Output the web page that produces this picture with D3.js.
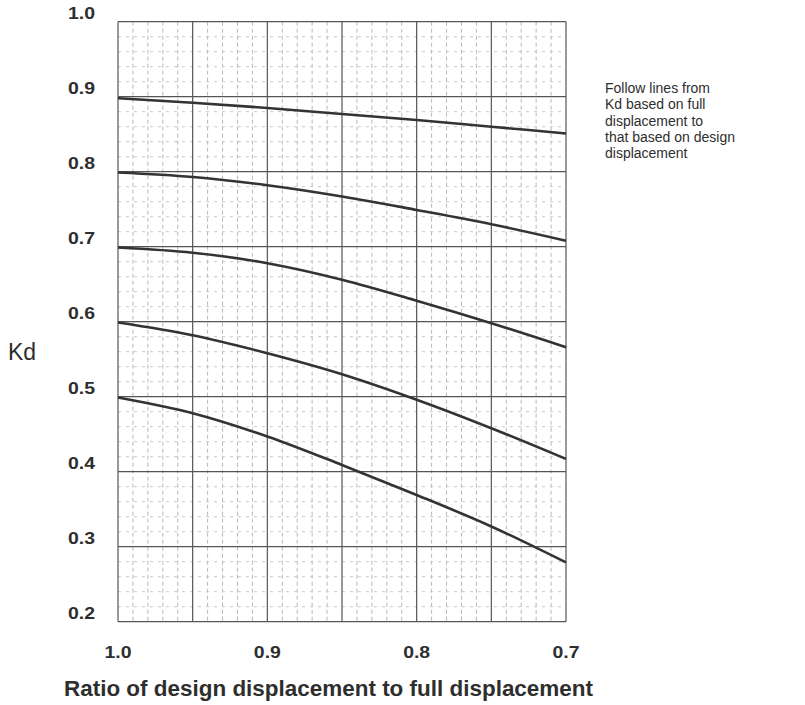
<!DOCTYPE html>
<html>
<head>
<meta charset="utf-8">
<script src="https://cdn.jsdelivr.net/npm/d3@7"></script>
<style>
  html, body { margin: 0; padding: 0; background: #fff; }
  svg { display: block; }
  text { font-family: "Liberation Sans", Arial, sans-serif; fill: #2e2e2e; }
</style>
</head>
<body>
<svg id="chart" width="805" height="705"></svg>
<script>
// ---- data ----
const ratios = [1.0, 0.95, 0.9, 0.85, 0.8, 0.75, 0.7];
const kd90 = [0.898, 0.892, 0.885, 0.877, 0.869, 0.860, 0.851];
const kd80 = [0.799, 0.793, 0.782, 0.767, 0.749, 0.730, 0.708];
const kd70 = [0.699, 0.692, 0.678, 0.656, 0.628, 0.598, 0.566];
const kd60 = [0.599, 0.582, 0.558, 0.530, 0.496, 0.458, 0.417];
const kd50 = [0.499, 0.478, 0.447, 0.409, 0.369, 0.327, 0.279];
const xTicks = [1.0, 0.9, 0.8, 0.7];
const yTicks = [1.0, 0.9, 0.8, 0.7, 0.6, 0.5, 0.4, 0.3, 0.2];
const xTitle = "Ratio of design displacement to full displacement";
const yTitle = "Kd";
const note = ["Follow lines from", "Kd based on full", "displacement to", "that based on design", "displacement"];

// ---- layout ----
const svg = d3.select("#chart");
const x = d3.scaleLinear().domain([1.0, 0.7]).range([118, 566]);
const y = d3.scaleLinear().domain([0.2, 1.0]).range([621.7, 21.7]);

const g = svg.append("g");

// minor vertical grid (every 0.01)
const minorX = d3.range(0, 31).map(i => +(1.0 - i * 0.01).toFixed(2)).filter(v => Math.round(v * 100) % 5 !== 0);
g.selectAll(".mvx").data(minorX).join("line")
  .attr("x1", d => x(d)).attr("x2", d => x(d))
  .attr("y1", y(1.0)).attr("y2", y(0.2))
  .attr("stroke", "#b8b8b8").attr("stroke-width", 1).attr("stroke-dasharray", "4,3");

// minor horizontal grid (every 0.02)
const minorY = d3.range(0, 41).map(i => +(0.2 + i * 0.02).toFixed(2)).filter(v => Math.round(v * 100) % 10 !== 0);
g.selectAll(".mhy").data(minorY).join("line")
  .attr("x1", x(1.0)).attr("x2", x(0.7))
  .attr("y1", d => y(d)).attr("y2", d => y(d))
  .attr("stroke", "#c8c8c8").attr("stroke-width", 1).attr("stroke-dasharray", "3,5");

// major vertical grid (every 0.05)
const majorX = d3.range(0, 7).map(i => +(1.0 - i * 0.05).toFixed(2));
g.selectAll(".Mvx").data(majorX).join("line")
  .attr("x1", d => x(d)).attr("x2", d => x(d))
  .attr("y1", y(1.0)).attr("y2", y(0.2))
  .attr("stroke", "#555").attr("stroke-width", 1.2);

// major horizontal grid (every 0.1)
g.selectAll(".Mhy").data(yTicks).join("line")
  .attr("x1", x(1.0)).attr("x2", x(0.7))
  .attr("y1", d => y(d)).attr("y2", d => y(d))
  .attr("stroke", "#555").attr("stroke-width", 1.2);

// curves
const series = [kd90, kd80, kd70, kd60, kd50];
const line = d3.line().x((d, i) => x(ratios[i])).y(d => y(d)).curve(d3.curveMonotoneX);
g.selectAll(".curve").data(series).join("path")
  .attr("d", d => line(d))
  .attr("fill", "none").attr("stroke", "#333").attr("stroke-width", 2.6);

// y tick labels
svg.selectAll(".ylab").data(yTicks).join("text")
  .attr("x", 95).attr("y", d => y(d) - 8)
  .attr("dy", "0.35em")
  .attr("text-anchor", "end")
  .attr("font-size", 16.5).attr("font-weight", "bold")
  .attr("textLength", 27).attr("lengthAdjust", "spacingAndGlyphs")
  .text(d => d.toFixed(1));

// x tick labels
svg.selectAll(".xlab").data(xTicks).join("text")
  .attr("x", d => x(d)).attr("y", 652)
  .attr("dy", "0.35em")
  .attr("text-anchor", "middle")
  .attr("font-size", 16.5).attr("font-weight", "bold")
  .attr("textLength", 27).attr("lengthAdjust", "spacingAndGlyphs")
  .text(d => d.toFixed(1));

// axis titles
svg.append("text")
  .attr("x", 64).attr("y", 696)
  .attr("font-size", 22).attr("font-weight", "bold")
  .attr("textLength", 529).attr("lengthAdjust", "spacingAndGlyphs")
  .text(xTitle);

svg.append("text")
  .attr("x", 8).attr("y", 360)
  .attr("font-size", 23)
  .text(yTitle);

// annotation
svg.append("text")
  .attr("x", 605).attr("y", 93)
  .attr("font-size", 14)
  .attr("fill", "#444")
  .selectAll("tspan").data(note).join("tspan")
  .attr("x", 605).attr("dy", (d, i) => i === 0 ? 0 : 16.3)
  .text(d => d);
</script>
</body>
</html>
